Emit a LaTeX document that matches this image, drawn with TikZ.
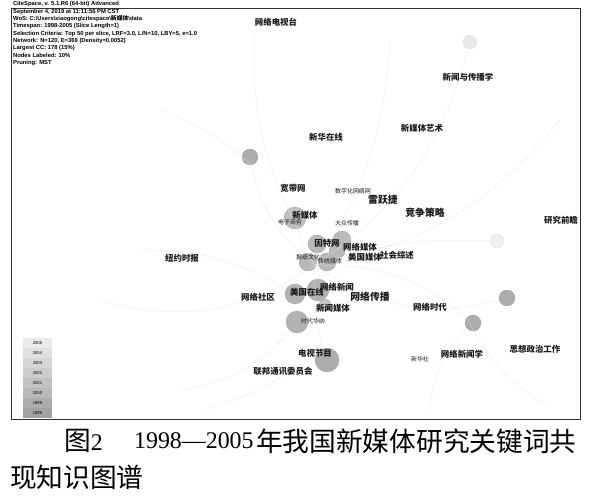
\documentclass[tikz,border=0pt]{standalone}
\usepackage{fontspec}
\setmainfont{Liberation Serif}
\setsansfont{Liberation Sans}
\newfontfamily\cjk{Noto Sans CJK SC}
\usetikzlibrary{calc}

\begin{document}
\begin{tikzpicture}[x=0.5mm,y=-0.5mm,
    kw/.style={font=\cjk\bfseries\fontsize{12}{12}\selectfont, text=black!90, inner sep=0.5pt},
    kwbig/.style={font=\cjk\bfseries\fontsize{14}{14}\selectfont, text=black!90, inner sep=0.5pt},
    kwsmall/.style={font=\cjk\fontsize{8.5}{8.5}\selectfont, text=black!90, inner sep=0.5pt},
    dot/.style={circle, draw=gray!75, fill=gray!60, inner sep=0pt},
    branch/.style={gray!22, line width=0.35pt},
    info/.style={font=\sffamily\bfseries\fontsize{8.3}{8.3}\selectfont, anchor=west, inner sep=0pt}]
    \useasboundingbox (0,0) rectangle (600,497);
    % Frame
    \draw[line width=0.9pt, black!80] (11,8) rectangle (580,419);
    % Header
    \foreach \t [count=\i] in {{CiteSpace, v. 5.1.R6 (64-bit) Advanced},
        {September 4, 2019 at 11:11:56 PM CST},
        {WoS: C:\textbackslash Users\textbackslash xiaogong\textbackslash citespace\textbackslash{\cjk 新媒体}\textbackslash data},
        {Timespan: 1998-2005 (Slice Length=1)},
        {Selection Criteria: Top 50 per slice, LRF=3.0, L/N=10, LBY=5, e=1.0},
        {Network: N=120, E=369 (Density=0.0052)},
        {Largest CC: 178 (15\%)},
        {Nodes Labeled: 10\%},
        {Pruning: MST}}
      \node[info] (h\i) at (13,{-3+7.3*\i}) {\t};
    % Nodes (circles)
    \node[dot, minimum size=14*0.5mm, fill=gray!18, draw=gray!25] (c1) at (470,42) {};
    \node[dot, minimum size=16*0.5mm, fill=gray!65] (c2) at (250,157) {};
    \node[dot, minimum size=22*0.5mm, fill=gray!50] (c3) at (295,218) {};
    \foreach \p/\r [count=\i] in {(317,244)/18,(342,240)/18,(308,262)/18,(327,262)/18,(337,251)/16}
      \node[dot, minimum size=\r*0.5mm, fill=gray!55] (k\i) at \p {};
    \node[dot, minimum size=20*0.5mm] (c5) at (295,294) {};
    \node[dot, minimum size=22*0.5mm] (c6) at (318,290) {};
    \node[dot, minimum size=12*0.5mm, fill=gray!45] (c7) at (325,305) {};
    \node[dot, minimum size=22*0.5mm] (c8) at (297,322) {};
    \node[dot, minimum size=24*0.5mm, fill=gray!65] (c9) at (327,360) {};
    \node[dot, minimum size=14*0.5mm, fill=gray!12, draw=gray!20] (c10) at (497,241) {};
    \node[dot, minimum size=16*0.5mm, fill=gray!65] (c11) at (507,298) {};
    \node[dot, minimum size=16*0.5mm, fill=gray!65] (c12) at (473,323) {};
    % Tree
    \coordinate (hub) at (315,265);
    \coordinate (e1) at (160,110);
    \coordinate (e2) at (205,410);
    \coordinate (e3) at (100,300);
    \coordinate (e4) at (545,405);
    \coordinate (e5) at (390,40);
    \coordinate (e6) at (560,120);
    \draw[branch] (hub) to[bend left=20] (c2) to[bend right=10] (e1);
    \draw[branch] (hub) to[bend left=10] (c3) to[bend left=15] (255,30);
    \draw[branch] (hub) to[bend right=15] (e5);
    \draw[branch] (hub) to[bend right=20] (e6);
    \draw[branch] (hub) to[bend left=25] (e3);
    \draw[branch] (hub) to[bend right=10] (c9) to[bend left=10] (e2);
    \draw[branch] (hub) to[bend left=20] (c12) to[bend right=15] (e4);
    \draw[branch] (hub) to[bend right=25] (c11);
    \draw[branch] (hub) to[bend left=10] (c10);
    \draw[branch] (hub) to[bend right=20] (c1);
    \draw[branch] (c8) to[bend left=20] (180,390);
    \draw[branch] (c5) to[bend right=15] (140,250);
    \draw[branch] (c12) to[bend right=20] (430,410);
    % Labels
    \node[kw] (tv) at (276,22) {网络电视台};
    \node[kw] (xwcb) at (468,77) {新闻与传播学};
    \node[kw] (xhzx) at (326,137) {新华在线};
    \node[kw] (xmtys) at (422,128) {新媒体艺术};
    \node[kw] (kdw) at (293,188) {宽带网};
    \node[kwsmall] (szw) at (353,191) {数字化网络网};
    \node[kwbig] (lyj) at (383,200) {雷跃捷};
    \node[kwbig] (jzcl) at (425,213) {竞争策略};
    \node[kw] (xmt) at (305,215) {新媒体};
    \node[kwsmall] (dzsw) at (290,222) {电子商务};
    \node[kwsmall] (dzcb) at (347,223) {大众传播};
    \node[kw] (nysb) at (182,258) {纽约时报};
    \node[kw] (ytw) at (327,243) {因特网};
    \node[kw] (wlmt) at (360,247) {网络媒体};
    \node[kw] (shzs) at (397,255) {社会综述};
    \node[kw] (mgmt) at (365,257) {美国媒体};
    \node[kwsmall] (bzwh) at (308,257) {报纸文化};
    \node[kwsmall] (ctmt) at (330,261) {传统媒体};
    \node[kw] (mgzx) at (307,292) {美国在线};
    \node[kw] (wlxw) at (337,287) {网络新闻};
    \node[kwbig] (wlcb) at (370,297) {网络传播};
    \node[kw] (wlsq) at (258,297) {网络社区};
    \node[kw] (xwmt) at (333,308) {新闻媒体};
    \node[kwsmall] (sdhn) at (313,321) {时代华纳};
    \node[kw] (wlsd) at (430,307) {网络时代};
    \node[kw] (yjqz) at (561,220) {研究前瞻};
    \node[kw] (sxzz) at (535,349) {思想政治工作};
    \node[kw] (wlxwx) at (462,354) {网络新闻学};
    \node[kwsmall] (xhs) at (420,359) {新华社};
    \node[kw] (dsjm) at (315,353) {电视节目};
    \node[kw] (lbtx) at (283,371) {联邦通讯委员会};
    % Legend
    \foreach \yr [count=\i] in {2005,2004,2003,2002,2001,2000,1999,1998}
      \node[draw=none, fill=gray!\the\numexpr 8+8*\i\relax, minimum width=29*0.5mm, minimum height=10*0.5mm,
            inner sep=0pt, font=\sffamily\fontsize{6}{6}\selectfont] (y\yr) at (37.5,{333+10*\i}) {\yr};
    % Caption
    \node[anchor=west, inner sep=0pt, font=\cjk\fontsize{38}{38}\selectfont] (cap1) at (64,441)
      {图{\rmfamily\fontsize{34}{34}\selectfont 2}};
    \node[anchor=west, inner sep=0pt, font=\rmfamily\fontsize{34}{34}\selectfont] (cap2) at (134,441) {1998---2005};
    \node[anchor=west, inner sep=0pt, font=\cjk\fontsize{38}{38}\selectfont] (cap3) at (256,441) {年我国新媒体研究关键词共};
    \node[anchor=west, inner sep=0pt, font=\cjk\fontsize{38}{38}\selectfont] (cap4) at (10,477) {现知识图谱};
\end{tikzpicture}
\end{document}
